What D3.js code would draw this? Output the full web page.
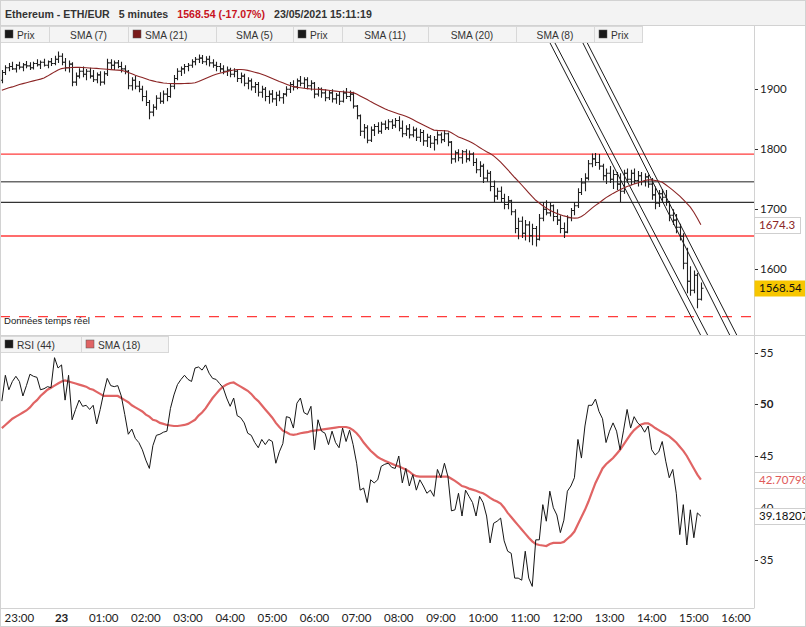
<!DOCTYPE html>
<html><head><meta charset="utf-8">
<script src="https://cdn.jsdelivr.net/npm/d3@7"></script>
<style>body{margin:0;background:#fff}svg{display:block}</style>
</head><body><svg id="c" width="806" height="627"></svg>
<script>
// ---------- DATA ----------
const barMinutes = 5;
const firstBar = [2021, 4, 22, 22, 35]; // 22/05/2021 22:35
const open = [
1915,1928,1936,1938,1934,1940,1937,1941,1939,1936,
1943,1941,1945,1940,1946,1943,1950,1955,1945,1936,
1942,1912,1922,1930,1925,1930,1922,1916,1924,1912,
1926,1944,1940,1944,1938,1934,1930,1906,1915,1905,
1900,1888,1878,1862,1870,1885,1880,1892,1888,1905,
1918,1930,1934,1938,1940,1946,1950,1952,1946,1950,
1944,1940,1938,1934,1930,1932,1925,1930,1918,1922,
1910,1914,1904,1908,1895,1900,1888,1892,1884,1890,
1886,1892,1900,1908,1904,1914,1910,1916,1906,1910,
1892,1900,1894,1886,1894,1884,1890,1880,1894,1888,
1892,1872,1856,1830,1836,1815,1832,1838,1830,1842,
1836,1846,1840,1848,1835,1826,1834,1824,1832,1820,
1828,1814,1820,1810,1816,1824,1816,1826,1812,1784,
1794,1786,1796,1784,1792,1778,1766,1772,1752,1760,
1738,1722,1730,1718,1708,1714,1696,1668,1680,1660,
1674,1656,1668,1650,1685,1700,1694,1706,1688,1682,
1668,1662,1686,1698,1706,1728,1744,1752,1776,1784,
1778,1772,1756,1760,1750,1758,1742,1730,1760,1750,
1760,1748,1756,1746,1754,1742,1724,1710,1726,1720,
1712,1690,1682,1670,1655,1610,1580,1565,1590,1550];
const high = [
1932,1940,1944,1946,1942,1946,1944,1947,1945,1946,
1950,1948,1951,1948,1952,1956,1963,1960,1952,1948,
1945,1928,1935,1938,1934,1936,1932,1928,1930,1930,
1951,1950,1948,1949,1946,1940,1932,1920,1922,1914,
1906,1898,1882,1875,1890,1895,1898,1902,1910,1924,
1935,1938,1942,1944,1950,1954,1958,1957,1955,1956,
1950,1946,1944,1940,1938,1936,1935,1934,1928,1926,
1920,1918,1912,1912,1906,1904,1898,1899,1896,1898,
1894,1905,1912,1915,1918,1922,1920,1920,1915,1912,
1904,1903,1900,1898,1900,1894,1896,1898,1902,1898,
1896,1874,1858,1842,1840,1838,1842,1845,1846,1848,
1850,1850,1852,1855,1848,1840,1842,1838,1836,1834,
1832,1826,1824,1822,1830,1828,1832,1828,1814,1798,
1800,1799,1800,1798,1795,1785,1780,1776,1766,1764,
1748,1736,1738,1726,1722,1716,1700,1686,1688,1682,
1680,1676,1672,1692,1712,1715,1712,1708,1700,1690,
1678,1690,1702,1712,1735,1752,1760,1782,1793,1794,
1792,1776,1768,1772,1766,1762,1760,1766,1768,1766,
1768,1764,1762,1760,1758,1752,1738,1732,1734,1732,
1714,1700,1692,1676,1660,1636,1605,1598,1594,1578];
const low = [
1910,1924,1930,1932,1928,1933,1930,1935,1932,1933,
1938,1934,1938,1935,1939,1940,1944,1940,1930,1928,
1905,1906,1918,1920,1915,1918,1912,1910,1906,1908,
1922,1934,1932,1935,1928,1925,1900,1898,1900,1895,
1880,1872,1850,1855,1866,1876,1876,1880,1886,1900,
1915,1922,1926,1930,1936,1940,1944,1942,1940,1938,
1936,1930,1928,1925,1922,1920,1920,1912,1910,1905,
1900,1898,1894,1888,1886,1880,1876,1878,1872,1880,
1876,1888,1894,1898,1900,1905,1902,1900,1898,1885,
1888,1886,1880,1882,1878,1876,1874,1878,1884,1880,
1868,1850,1822,1818,1810,1812,1822,1826,1826,1832,
1832,1834,1836,1830,1820,1822,1818,1820,1814,1812,
1806,1804,1802,1798,1808,1810,1812,1805,1776,1778,
1780,1776,1778,1780,1772,1760,1754,1744,1746,1730,
1712,1716,1712,1700,1700,1690,1660,1650,1652,1648,
1645,1640,1638,1648,1680,1690,1688,1680,1674,1660,
1652,1660,1680,1690,1702,1724,1730,1748,1770,1772,
1766,1748,1742,1744,1734,1732,1712,1726,1744,1740,
1742,1738,1740,1738,1736,1716,1700,1704,1712,1706,
1680,1674,1660,1648,1600,1560,1556,1560,1535,1548];
const close = [
1928,1936,1938,1934,1940,1937,1941,1939,1936,1943,
1941,1945,1940,1946,1943,1950,1955,1945,1936,1942,
1912,1922,1930,1925,1930,1922,1916,1924,1912,1926,
1944,1940,1944,1938,1934,1930,1906,1915,1905,1900,
1888,1878,1862,1870,1885,1880,1892,1888,1905,1918,
1930,1934,1938,1940,1946,1950,1952,1946,1950,1944,
1940,1938,1934,1930,1932,1925,1930,1918,1922,1910,
1914,1904,1908,1895,1900,1888,1892,1884,1890,1886,
1892,1900,1908,1904,1914,1910,1916,1906,1910,1892,
1900,1894,1886,1894,1884,1890,1880,1894,1888,1892,
1872,1856,1830,1836,1815,1832,1838,1830,1842,1836,
1846,1840,1848,1835,1826,1834,1824,1832,1820,1828,
1814,1820,1810,1816,1824,1816,1826,1812,1784,1794,
1786,1796,1784,1792,1778,1766,1772,1752,1760,1738,
1722,1730,1718,1708,1714,1696,1668,1680,1660,1674,
1656,1668,1650,1685,1700,1694,1706,1688,1682,1668,
1662,1686,1698,1706,1728,1744,1752,1776,1784,1778,
1772,1756,1760,1750,1758,1742,1730,1760,1750,1760,
1748,1756,1746,1754,1742,1724,1710,1726,1720,1712,
1690,1682,1670,1655,1610,1580,1565,1590,1550,1568.54];
const sma21 = [
1898.5,1900.5,1902.5,1904,1906,1908,1909.5,1911,1912.5,1914,
1915.5,1917,1919,1922,1925.5,1929,1932,1934.5,1935.5,1936,
1936.3,1936.5,1936.6,1936.4,1936,1935.6,1935.2,1934.8,1934.3,1933.8,
1933.3,1932.8,1932.3,1932,1931.5,1930,1928,1926,1923.5,1921.5,
1919.5,1917.5,1915.5,1914,1912.5,1911.5,1910.5,1910,1909.7,1909.5,
1909.5,1909.5,1909.6,1909.8,1910,1911,1913,1915.5,1918,1920.5,
1923,1925,1926.6,1928,1929.5,1931,1932.3,1933,1933,1932.5,
1931.5,1930,1928.5,1927,1925,1923,1920.5,1918,1915.5,1913,
1910.8,1908.5,1906.3,1904.4,1903.5,1902.6,1901.8,1901.2,1900.6,1900.2,
1900,1899.5,1899,1898.3,1897.7,1897,1896.4,1895.9,1895.4,1894.9,
1894.4,1892,1889,1886,1883,1879.5,1876.5,1873.5,1870.5,1867.5,
1865,1863,1861,1859,1857,1855,1852.5,1849.5,1846.5,1843.5,
1840.5,1837.5,1834.5,1832,1831.5,1831.2,1831,1830.5,1827.5,1824,
1820.5,1818.5,1816,1813.5,1810.5,1807,1803,1799.5,1796,1793,
1789,1784,1778.5,1772.5,1766,1759.5,1753,1747,1740.5,1734,
1727.5,1721,1715,1710.5,1706,1702,1698.5,1695.5,1693,1691,
1689,1687.5,1686,1685.3,1685.5,1688,1692,1697,1702,1706.5,
1710.5,1715,1719.5,1723,1726.5,1729.5,1732.5,1735.5,1738,1740,
1742,1744,1746,1748,1749,1749,1748,1747,1745,1741,
1736.5,1732,1727,1722,1716,1710,1703.5,1695,1685,1674.3];
const rsi44 = [
50.3,52.8,51.4,52.2,52.7,52.2,50.8,51.8,52.9,52.7,
52.6,51.4,51.5,51.7,51.6,54.5,53.5,53.8,50.4,52.8,
48.5,49.5,50.4,49.8,49.9,49.5,49.9,48.1,49.5,51.1,
52.5,51.8,51.7,51.8,50.8,49.0,47.1,47.6,46.7,46.3,
45.6,44.6,43.8,46.0,47.0,47.1,47.3,47.4,49.6,50.9,
51.9,52.4,52.8,52.4,52.2,53.5,53.6,53.3,53.8,53.0,
52.5,52.4,52.0,51.6,50.6,49.8,50.6,48.9,48.7,48.2,
47.2,47.0,46.3,45.8,46.6,46.1,46.6,46.4,44.3,45.4,
46.2,48.8,48.7,47.7,50.1,50.6,49.2,49.0,49.8,45.6,
48.5,47.4,47.2,46.1,47.4,46.3,45.8,47.7,46.4,47.5,
46.1,44.3,41.7,41.9,40.5,42.7,42.4,42.7,44.0,44.2,
44.3,43.9,43.8,45.0,42.4,43.8,42.1,43.2,41.7,42.7,
42.1,41.4,41.7,41.1,43.7,42.9,44.3,43.0,39.7,39.8,
41.4,39.2,41.7,41.1,40.5,39.2,41.1,40.5,39.2,36.6,
38.5,38.7,39.0,36.8,35.8,35.6,33.2,33.2,33.0,35.8,
33.2,32.4,36.9,36.9,40.3,38.7,41.6,40.0,39.3,37.6,
38.8,41.6,42.1,42.9,46.6,44.8,47.9,49.9,49.9,50.5,
49.3,48.6,46.3,47.4,48.2,47.4,45.6,47.5,49.5,47.7,
48.8,48.2,47.9,47.3,47.9,45.6,45.1,45.4,46.4,44.5,
42.9,43.7,41.4,37.4,40.3,36.4,39.8,37.1,39.5,39.18207];
const rsiSma18 = [
47.7,48.0,48.3,48.6,48.8,49.0,49.2,49.4,49.7,50.1,
50.4,50.8,51.1,51.4,51.6,51.8,52.0,52.2,52.3,52.2,
52.1,52.0,51.9,51.8,51.7,51.5,51.4,51.2,51.0,50.8,
50.8,50.8,50.8,50.8,50.6,50.4,50.2,49.9,49.7,49.5,
49.3,49.0,48.8,48.5,48.4,48.2,48.1,48.0,47.95,47.9,
47.9,47.95,48.0,48.1,48.3,48.5,48.9,49.2,49.6,50.1,
50.6,51.0,51.4,51.7,51.9,52.05,52.1,51.9,51.7,51.5,
51.3,51.0,50.6,50.3,49.9,49.5,49.1,48.7,48.2,47.8,
47.45,47.3,47.1,47.05,47.1,47.2,47.25,47.3,47.4,47.45,
47.5,47.55,47.6,47.65,47.7,47.75,47.8,47.8,47.8,47.7,
47.5,47.2,46.8,46.3,45.9,45.5,45.2,44.9,44.7,44.55,
44.4,44.25,44.1,44.0,43.85,43.7,43.5,43.2,43.05,43.0,
43.0,43.0,43.0,43.0,43.0,43.0,43.0,43.0,42.8,42.6,
42.35,42.1,42.0,41.85,41.75,41.65,41.5,41.4,41.2,40.95,
40.75,40.6,40.4,40.0,39.5,39.1,38.7,38.3,37.9,37.5,
37.1,36.75,36.5,36.4,36.35,36.3,36.5,36.6,36.6,36.6,
36.7,37.0,37.3,37.7,38.4,39.1,39.8,40.6,41.5,42.4,
43.1,43.8,44.2,44.5,44.8,45.2,45.6,46.1,46.6,47.1,
47.5,47.8,48.05,48.15,48.15,47.95,47.7,47.5,47.3,47.1,
46.9,46.6,46.3,45.9,45.5,45.0,44.4,43.8,43.2,42.70798];
const priceTicks = [1900, 1800, 1700, 1600];
const rsiTicks = [55, 50, 45, 40, 35];
const redLevels = [1792, 1655.5];
const grayLevels = [1746];
const blackLevels = [1711.5];
const dashedLevels = [1521];
// channel lines: [bar index, price, bar index, price]
const channelLines = [
  [170.3, 1815.5, 198.6, 1494],
  [171.9, 1815.5, 200.6, 1494],
  [179.3, 1815.5, 206.9, 1494],
  [180.8, 1815.5, 208.9, 1494]];
const mainLegend = ["Prix","SMA (7)","SMA (21)","SMA (5)","Prix","SMA (11)","SMA (20)","SMA (8)","Prix"];
const mainLegendSwatch = ["#1a1a1a",null,"#7a1c1c",null,"#1a1a1a",null,null,null,"#1a1a1a"];
const rsiLegend = ["RSI (44)","SMA (18)"];
const rsiLegendSwatch = ["#1a1a1a","#e06464"];
const titleParts = [
  {t:"Ethereum - ETH/EUR", c:"#333"},
  {t:"5 minutes", c:"#333"},
  {t:"1568.54 (-17.07%)", c:"#c8141e"},
  {t:"23/05/2021 15:11:19", c:"#333"}];

// ---------- CHART ----------
const svg = d3.select("#c");
const AX = 754;
const mainTop = 42, mainBot = 335, rsiTop = 336, rsiBot = 608;
const t0 = new Date(...firstBar);
const dates = close.map((_, i) => new Date(t0.getTime() + i * barMinutes * 60000));
const x = d3.scaleTime().domain([new Date(2021,4,22,23,0), new Date(2021,4,23,16,0)]).range([19.4, 736]);
const y = d3.scaleLinear().domain([1600, 1900]).range([269.3, 89.3]);
const yr = d3.scaleLinear().domain([35, 55]).range([559.5, 352.5]);
const xi = i => x(new Date(t0.getTime() + i * barMinutes * 60000));

const defs = svg.append("defs");
defs.append("clipPath").attr("id","cm").append("rect").attr("x",0).attr("y",mainTop).attr("width",AX).attr("height",mainBot-mainTop);
defs.append("clipPath").attr("id","cr").append("rect").attr("x",0).attr("y",rsiTop).attr("width",AX).attr("height",rsiBot-rsiTop);

svg.append("rect").attr("width",806).attr("height",627).attr("fill","#fff");

// main panel
const gm = svg.append("g").attr("clip-path","url(#cm)");
const hl = (lvls, col, w, dash) => lvls.forEach(v => {
  gm.append("line").attr("x1",0).attr("x2",AX).attr("y1",y(v)).attr("y2",y(v))
    .attr("stroke",col).attr("stroke-width",w).attr("stroke-dasharray",dash||null);
});
hl(redLevels, "#ff3b3b", 1.3);
hl(grayLevels, "#6a6a6a", 1.6);
hl(blackLevels, "#333", 1.1);
hl(dashedLevels, "#ff3b3b", 1.2, "10,9");

// channel lines
channelLines.forEach(([i0,p0,i1,p1]) => {
  const x0 = xi(i0), x1 = xi(i1), y0 = y(p0), y1 = y(p1);
  const k = (x1-x0)/(y1-y0);
  const yA = mainTop-5, yB = mainBot+5;
  gm.append("line").attr("x1", x0 + (yA-y0)*k).attr("y1", yA)
    .attr("x2", x0 + (yB-y0)*k).attr("y2", yB)
    .attr("stroke","#1a1a1a").attr("stroke-width",1);
});

// OHLC bars
gm.append("g").selectAll("path").data(close).join("path")
  .attr("d", (c,i) => {
    const px = Math.round(x(dates[i])) + 0.5;
    return `M${px},${y(high[i])}V${y(low[i])}M${px-2},${y(open[i])}H${px}M${px},${y(c)}H${px+2}`;
  })
  .attr("fill","none").attr("stroke","#1f1f1f").attr("stroke-width",1.1);

// SMA 21
gm.append("path").datum(sma21)
  .attr("d", d3.line().x((d,i)=>x(dates[i])).y(d=>y(d)))
  .attr("fill","none").attr("stroke","#8b2525").attr("stroke-width",1.1);

svg.append("text").attr("x",4).attr("y",323.5).text("Données temps réel")
  .attr("font-family","Liberation Sans, Arial, sans-serif").attr("font-size",9.6).attr("fill","#222");

// RSI panel
const gr = svg.append("g").attr("clip-path","url(#cr)");
gr.append("path").datum(rsiSma18)
  .attr("d", d3.line().x((d,i)=>x(dates[i])).y(d=>yr(d)))
  .attr("fill","none").attr("stroke","#e06464").attr("stroke-width",2.2);
gr.append("path").datum(rsi44)
  .attr("d", d3.line().x((d,i)=>x(dates[i])).y(d=>yr(d)))
  .attr("fill","none").attr("stroke","#161616").attr("stroke-width",1);

// frames
const frame = "#d2d2d2";
svg.append("line").attr("x1",0).attr("x2",806).attr("y1",335.5).attr("y2",335.5).attr("stroke",frame);
svg.append("line").attr("x1",0).attr("x2",AX).attr("y1",rsiBot+0.5).attr("y2",rsiBot+0.5).attr("stroke",frame);
svg.append("line").attr("x1",AX+0.5).attr("x2",AX+0.5).attr("y1",26).attr("y2",rsiBot+0.5).attr("stroke",frame);

// axis font
const axFont = "Lato, 'Open Sans', sans-serif";

// price axis
priceTicks.forEach(v => {
  svg.append("line").attr("x1",AX+1).attr("x2",AX+4).attr("y1",Math.round(y(v))+0.5).attr("y2",Math.round(y(v))+0.5).attr("stroke","#333");
  svg.append("text").attr("x",AX+6).attr("y",y(v)+4).text(v)
    .attr("font-family",axFont).attr("font-size",11.5).attr("fill","#222");
});
// rsi axis
rsiTicks.forEach(v => {
  svg.append("line").attr("x1",AX+1).attr("x2",AX+4).attr("y1",Math.round(yr(v))+0.5).attr("y2",Math.round(yr(v))+0.5).attr("stroke","#333");
  svg.append("text").attr("x",AX+6).attr("y",yr(v)+4).text(v)
    .attr("font-family",axFont).attr("font-size",11.5).attr("fill","#222")
    .attr("font-weight", v===50 ? "bold" : null);
});

// value boxes
const valueBox = (yy, txt, fill, col, w) => {
  svg.append("rect").attr("x",AX+0.5).attr("y",Math.round(yy-8)+0.5).attr("width",w).attr("height",16)
    .attr("fill",fill).attr("stroke", fill==="#fff" ? "#cfcfcf" : "none");
  svg.append("text").attr("x",AX+5).attr("y",yy+4).text(txt)
    .attr("font-family",axFont).attr("font-size",11.5).attr("fill",col);
};
valueBox(y(sma21[sma21.length-1]), d3.format(".1f")(sma21[sma21.length-1]), "#fff", "#8b2525", 46);
valueBox(y(close[close.length-1]), d3.format(".2f")(close[close.length-1]), "#f7c600", "#111", 52);
valueBox(yr(rsiSma18[rsiSma18.length-1]), rsiSma18[rsiSma18.length-1], "#fff", "#e05a5a", 52);
valueBox(yr(rsi44[rsi44.length-1]), rsi44[rsi44.length-1], "#fff", "#111", 52);

// time axis
const hours = d3.timeHour.every(1).range(new Date(2021,4,22,23,0), new Date(2021,4,23,16,30));
hours.forEach(h => {
  const isDay = h.getHours() === 0;
  svg.append("text").attr("x", x(h)).attr("y", 622).attr("text-anchor","middle")
    .text(isDay ? d3.timeFormat("%-d")(h) : d3.timeFormat("%H:%M")(h))
    .attr("font-family",axFont).attr("font-size",11.5).attr("fill","#222")
    .attr("font-weight", isDay ? "bold" : null);
});

// header
svg.append("rect").attr("x",0.5).attr("y",0.5).attr("width",805).attr("height",25).attr("fill","#f3f3f3").attr("stroke",frame);
let tx = 5;
const title = svg.append("text").attr("x",5).attr("y",18).attr("font-family","Liberation Sans, Arial, sans-serif")
  .attr("font-size",10.6).attr("font-weight","bold");
titleParts.forEach((p,k) => {
  title.append("tspan").text(p.t).attr("fill",p.c).attr("dx", k===0 ? 0 : 9);
});

// legend tabs
const tabs = (labels, swatches, edges, top, h) => {
  labels.forEach((lab,k) => {
    const x0 = edges[k], x1 = edges[k+1];
    svg.append("rect").attr("x",x0+0.5).attr("y",top+0.5).attr("width",x1-x0).attr("height",h)
      .attr("fill","#f4f4f4").attr("stroke","#d8d8d8");
    const sw = swatches[k];
    if (sw) {
      svg.append("rect").attr("x",x0+5).attr("y",top+4).attr("width",8).attr("height",8).attr("fill",sw).attr("stroke","#555").attr("stroke-width",0.5);
      svg.append("text").attr("x",x0+17).attr("y",top+12.5).text(lab)
        .attr("font-family","Liberation Sans, Arial, sans-serif").attr("font-size",10.2).attr("fill","#333");
    } else {
      svg.append("text").attr("x",(x0+x1)/2).attr("y",top+12.5).attr("text-anchor","middle").text(lab)
        .attr("font-family","Liberation Sans, Arial, sans-serif").attr("font-size",10.2).attr("fill","#333");
    }
  });
};
tabs(mainLegend, mainLegendSwatch, [0,49,128,216,293,342,428,516,594,642], 26, 16);
tabs(rsiLegend, rsiLegendSwatch, [0,81,168], 336, 16);

// outer border
svg.append("rect").attr("x",0.5).attr("y",0.5).attr("width",805).attr("height",626).attr("fill","none").attr("stroke",frame);
</script></body></html>
